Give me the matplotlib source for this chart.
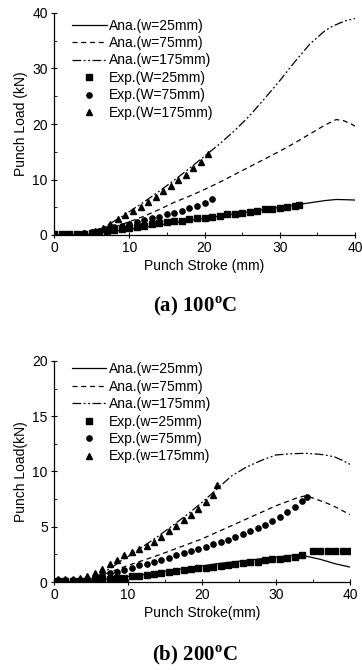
import matplotlib
matplotlib.use("Agg")
import matplotlib.pyplot as plt
import numpy as np

plt.rcParams['font.family'] = ['Liberation Sans', 'DejaVu Sans']
plt.rcParams['mathtext.fontset'] = 'custom'
plt.rcParams['mathtext.rm'] = 'Liberation Serif'
plt.rcParams['mathtext.bf'] = 'Liberation Serif:bold'

# ---------- (a) 100 C ----------
a_ana25_x = [0, 2, 4, 5, 6, 7, 8, 9, 10, 12, 14, 16, 18, 20, 22, 24, 26, 28, 30, 32, 34, 36, 37.5, 39, 40]
a_ana25_y = [0, 0, 0.05, 0.15, 0.3, 0.5, 0.7, 0.85, 1.0, 1.4, 1.8, 2.2, 2.6, 3.0, 3.4, 3.8, 4.2, 4.6, 5.0, 5.4,
             5.8, 6.2, 6.4, 6.35, 6.3]
a_ana75_x = [0, 4, 5, 6, 7, 8, 9, 10, 12, 14, 16, 18, 20, 22, 24, 26, 28, 30, 32, 34, 36, 37.5, 38.5, 39.5, 40]
a_ana75_y = [0, 0.1, 0.3, 0.6, 1.0, 1.4, 1.9, 2.4, 3.4, 4.6, 5.9, 7.0, 8.2, 9.5, 10.9, 12.3, 13.7, 15.1, 16.6,
             18.2, 19.8, 20.8, 20.6, 20.0, 19.6]
a_ana175_x = [0, 4, 5, 6, 7, 8, 9, 10, 12, 14, 16, 18, 20, 22, 24, 26, 28, 30, 32, 34, 36, 37, 38, 39, 40]
a_ana175_y = [0, 0.2, 0.5, 1.0, 1.7, 2.5, 3.3, 4.2, 6.0, 7.9, 9.9, 12.0, 14.2, 16.4, 18.8, 21.5, 24.6, 27.8,
              31.2, 34.4, 36.8, 37.6, 38.2, 38.7, 39.0]

a_exp25_x = [0, 1, 2, 3, 4, 5, 6, 7, 8, 9, 10, 11, 12, 13, 14, 15, 16, 17, 18, 19, 20,
             21, 22, 23, 24, 25, 26, 27, 28, 29, 30, 31, 32, 32.5]
a_exp25_y = [0.1, 0.1, 0.1, 0.1, 0.2, 0.3, 0.5, 0.7, 0.9, 1.1, 1.3, 1.5, 1.7, 1.9, 2.1, 2.3, 2.5, 2.6, 2.8, 3.0,
             3.1, 3.3, 3.5, 3.7, 3.8, 4.0, 4.2, 4.4, 4.6, 4.7, 4.9, 5.1, 5.3, 5.4]
a_exp75_x = [0, 1, 2, 3, 4, 5, 6, 7, 8, 9, 10, 11, 12, 13, 14, 15, 16, 17, 18, 19, 20, 21]
a_exp75_y = [0.1, 0.1, 0.1, 0.2, 0.3, 0.5, 0.8, 1.1, 1.4, 1.7, 2.0, 2.4, 2.7, 3.0, 3.3, 3.7, 4.0, 4.4, 4.8, 5.3,
             5.8, 6.4]
a_exp175_x = [0, 1, 2, 3, 4, 5, 5.5, 6.5, 7.5, 8.5, 9.5, 10.5, 11.5, 12.5, 13.5, 14.5, 15.5, 16.5, 17.5, 18.5,
              19.5, 20.5]
a_exp175_y = [0.1, 0.1, 0.1, 0.2, 0.3, 0.5, 0.8, 1.3, 2.0, 2.8, 3.6, 4.3, 5.1, 6.0, 6.9, 7.9, 8.9, 9.9, 10.9,
              12.0, 13.2, 14.6]

# ---------- (b) 200 C ----------
b_ana25_x = [0, 4, 6, 8, 10, 12, 14, 16, 18, 20, 22, 24, 26, 28, 30, 32, 33, 34, 35, 36, 37, 38, 39, 40]
b_ana25_y = [0, 0.05, 0.15, 0.35, 0.5, 0.65, 0.85, 1.05, 1.25, 1.45, 1.65, 1.8, 1.95, 2.1, 2.25, 2.4, 2.45,
             2.35, 2.2, 2.05, 1.85, 1.65, 1.5, 1.35]
b_ana75_x = [0, 4, 6, 8, 10, 12, 14, 16, 18, 20, 22, 24, 26, 28, 30, 32, 33, 34, 35, 36, 37, 38, 39, 40]
b_ana75_y = [0, 0.1, 0.5, 1.0, 1.5, 1.95, 2.4, 2.9, 3.4, 3.9, 4.5, 5.1, 5.7, 6.3, 6.9, 7.4, 7.65, 7.8, 7.6,
             7.35, 7.1, 6.8, 6.45, 6.1]
b_ana175_x = [0, 4, 5, 6, 7, 8, 9, 10, 12, 14, 16, 18, 20, 22, 24, 26, 28, 30, 32, 34, 36, 37, 38, 39, 40]
b_ana175_y = [0, 0.1, 0.3, 0.6, 1.0, 1.4, 1.9, 2.3, 3.2, 4.1, 5.1, 6.1, 7.2, 8.4, 9.6, 10.4, 11.0, 11.5, 11.6,
              11.65, 11.55, 11.45, 11.3, 11.0, 10.65]

b_exp25_x = [0.5, 1.5, 2.5, 3.5, 4.5, 5.5, 6.5, 7.5, 8.5, 9.5, 10.5, 11.5, 12.5, 13.5, 14.5, 15.5,
             16.5, 17.5, 18.5, 19.5, 20.5, 21.5, 22.5, 23.5, 24.5, 25.5, 26.5, 27.5, 28.5, 29.5,
             30.5, 31.5, 32.5, 33.5, 35, 36, 37, 38, 39, 40]
b_exp25_y = [0.1, 0.1, 0.1, 0.1, 0.1, 0.2, 0.25, 0.3, 0.35, 0.4, 0.5, 0.55, 0.65, 0.75, 0.8, 0.9,
             1.0, 1.05, 1.15, 1.25, 1.3, 1.4, 1.45, 1.55, 1.6, 1.7, 1.8, 1.85, 1.95, 2.05,
             2.1, 2.2, 2.3, 2.4, 2.8, 2.8, 2.8, 2.8, 2.8, 2.8]
b_exp75_x = [0.5, 1.5, 2.5, 3.5, 4.5, 5.5, 6.5, 7.5, 8.5, 9.5, 10.5, 11.5, 12.5, 13.5, 14.5, 15.5,
             16.5, 17.5, 18.5, 19.5, 20.5, 21.5, 22.5, 23.5, 24.5, 25.5, 26.5, 27.5, 28.5, 29.5,
             30.5, 31.5, 32.5, 33.5, 34.2]
b_exp75_y = [0.2, 0.2, 0.2, 0.2, 0.3, 0.4, 0.6, 0.8, 0.9, 1.1, 1.3, 1.5, 1.6, 1.8, 2.0, 2.2,
             2.4, 2.6, 2.8, 3.0, 3.2, 3.4, 3.6, 3.8, 4.1, 4.3, 4.6, 4.9, 5.2, 5.5,
             5.9, 6.3, 6.8, 7.3, 7.7]
b_exp175_x = [0.5, 1.5, 2.5, 3.5, 4.5, 5.5, 6.5, 7.5, 8.5, 9.5, 10.5, 11.5, 12.5, 13.5, 14.5, 15.5,
              16.5, 17.5, 18.5, 19.5, 20.5, 21.5, 22]
b_exp175_y = [0.3, 0.3, 0.3, 0.4, 0.5, 0.8, 1.2, 1.6, 2.0, 2.4, 2.7, 3.0, 3.3, 3.6, 4.1, 4.6,
              5.1, 5.6, 6.1, 6.6, 7.2, 7.9, 8.8]

labels_a = ['Ana.(w=25mm)', 'Ana.(w=75mm)', 'Ana.(w=175mm)',
            'Exp.(W=25mm)', 'Exp.(W=75mm)', 'Exp.(W=175mm)']
labels_b = ['Ana.(w=25mm)', 'Ana.(w=75mm)', 'Ana.(w=175mm)',
            'Exp.(w=25mm)', 'Exp.(w=75mm)', 'Exp.(w=175mm)']

W, H = 362, 670
fig = plt.figure(figsize=(W / 100, H / 100), dpi=100)


def axrect(x0, x1, ytop, ybot):
    return [x0 / W, 1 - ybot / H, (x1 - x0) / W, (ybot - ytop) / H]


def panel(ax, ana, exps, labels, ymax, ystep, ylabel, xlabel, leg_y):
    ls = ['-', (0, (4, 3)), (0, (7, 2, 1.5, 2, 1.5, 2))]
    lines = []
    for (x, y), l in zip(ana, ls):
        lines += ax.plot(x, y, color='black', lw=0.9, linestyle=l)
    mk = ['s', 'o', '^']
    ms = [3.8, 3.8, 4.2]
    for (x, y), m, s in zip(exps, mk, ms):
        lines += ax.plot(x, y, linestyle='none', marker=m, ms=s, color='black')
    ax.legend(lines, labels, loc='upper left', frameon=False, fontsize=10,
              handlelength=2.5, handletextpad=0.15, labelspacing=0.25,
              borderaxespad=0.0, borderpad=0.0, bbox_to_anchor=(0.06, leg_y))
    ax.set_xlim(0, 40)
    ax.set_ylim(0, ymax)
    ax.set_xticks([0, 10, 20, 30, 40])
    ax.set_yticks(np.arange(0, ymax + 0.1, ystep))
    ax.set_xticks([5, 15, 25, 35], minor=True)
    ax.set_yticks(np.arange(ystep / 2, ymax, ystep), minor=True)
    for s in ['top', 'right']:
        ax.spines[s].set_visible(False)
    for s in ['left', 'bottom']:
        ax.spines[s].set_linewidth(0.9)
    ax.tick_params(which='major', direction='inout', length=5, width=0.8, labelsize=10, pad=2)
    ax.tick_params(which='minor', direction='in', length=2.5, width=0.6)
    ax.set_ylabel(ylabel, fontsize=10, labelpad=3)
    ax.set_xlabel(xlabel, fontsize=10, labelpad=3)
    ax.patch.set_alpha(0)


ax1 = fig.add_axes(axrect(54, 355, 13, 235))
panel(ax1,
      [(a_ana25_x, a_ana25_y), (a_ana75_x, a_ana75_y), (a_ana175_x, a_ana175_y)],
      [(a_exp25_x, a_exp25_y), (a_exp75_x, a_exp75_y), (a_exp175_x, a_exp175_y)],
      labels_a, 40, 10, 'Punch Load (kN)', 'Punch Stroke (mm)', 0.975)

ax2 = fig.add_axes(axrect(54, 350, 361, 582))
panel(ax2,
      [(b_ana25_x, b_ana25_y), (b_ana75_x, b_ana75_y), (b_ana175_x, b_ana175_y)],
      [(b_exp25_x, b_exp25_y), (b_exp75_x, b_exp75_y), (b_exp175_x, b_exp175_y)],
      labels_b, 20, 5, 'Punch Load(kN)', 'Punch Stroke(mm)', 0.995)

fig.text(195 / W, 1 - 306 / H, r'(a) 100$^{\mathbf{o}}$C', ha='center', va='center',
         fontsize=15, fontweight='bold', family='Liberation Serif')
fig.text(195 / W, 1 - 655 / H, r'(b) 200$^{\mathbf{o}}$C', ha='center', va='center',
         fontsize=15, fontweight='bold', family='Liberation Serif')

fig.savefig('out.png', dpi=100)
